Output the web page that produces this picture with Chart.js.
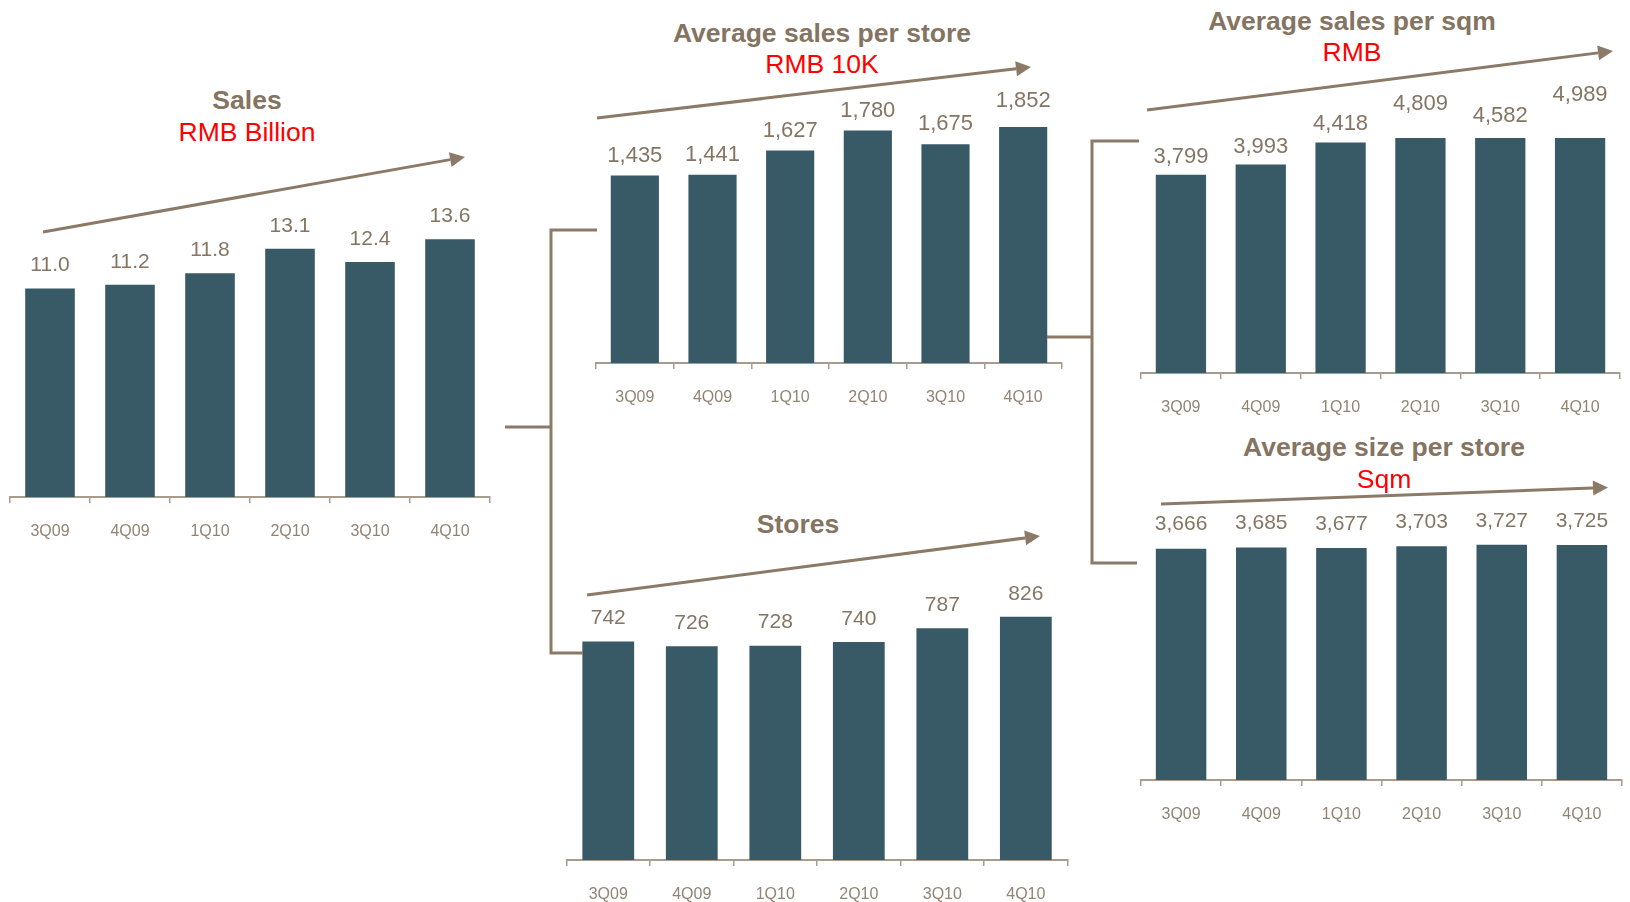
<!DOCTYPE html>
<html><head><meta charset="utf-8">
<script src="https://cdn.jsdelivr.net/npm/chart.js@4.4.1/dist/chart.umd.min.js"></script>
<style>
html,body{margin:0;padding:0;background:#fff;width:1630px;height:902px;overflow:hidden;font-family:"Liberation Sans",Arial,sans-serif;}
canvas{position:absolute;}
.t{position:absolute;transform:translate(-50%,-50%);white-space:nowrap;line-height:1;font-size:26.5px;}
.main{font-weight:bold;color:#847462;}
.unit{color:#ff0000;}
svg{position:absolute;left:0;top:0;z-index:5;}
</style></head><body>
<div id="wrap"></div>
<script>
// ---- data ----
const quarters = ['3Q09','4Q09','1Q10','2Q10','3Q10','4Q10'];
const sales = [11.0, 11.2, 11.8, 13.1, 12.4, 13.6];
const avgSalesPerStore = [1435, 1441, 1627, 1780, 1675, 1852];
const avgSalesPerSqm = [3799, 3993, 4418, 4809, 4582, 4989];
const avgSizePerStore = [3666, 3685, 3677, 3703, 3727, 3725];
const stores = [742, 726, 728, 740, 787, 826];

const titles = {
  sales: ['Sales', 'RMB Billion'],
  perStore: ['Average sales per store', 'RMB 10K'],
  perSqm: ['Average sales per sqm', 'RMB'],
  size: ['Average size per store', 'Sqm'],
  stores: ['Stores', '']
};

// ---- style ----
const BAR = '#375A66';
const AXIS = '#A99B8D';
const TICK_TXT = '#928474';
const VAL_TXT = '#857565';
const LINE = '#8B7A68';
const FONT = '"Liberation Sans", Arial, sans-serif';

const valueLabels = {
  id: 'valueLabels',
  afterDatasetsDraw(chart, args, opts) {
    const ctx = chart.ctx;
    const meta = chart.getDatasetMeta(0);
    const ys = chart.scales.y;
    const data = chart.data.datasets[0].data;
    ctx.save();
    ctx.font = opts.size + 'px ' + FONT;
    ctx.fillStyle = VAL_TXT;
    ctx.textAlign = 'center';
    ctx.textBaseline = 'middle';
    meta.data.forEach((bar, i) => {
      const v = data[i];
      const txt = opts.decimals ? v.toFixed(opts.decimals) : v.toLocaleString('en-US');
      ctx.fillText(txt, bar.x, ys.getPixelForValue(v) - opts.offset);
    });
    ctx.restore();
  }
};

function makeChart(p) {
  const c = document.createElement('canvas');
  c.width = p.w; c.height = p.h;
  c.style.left = p.left + 'px'; c.style.top = p.top + 'px';
  c.style.width = p.w + 'px'; c.style.height = p.h + 'px';
  document.getElementById('wrap').appendChild(c);
  new Chart(c, {
    type: 'bar',
    data: { labels: quarters, datasets: [{ data: p.data, backgroundColor: BAR, borderWidth: 0, clip: 0,
      categoryPercentage: 1, barPercentage: p.bp || 0.62 }] },
    options: {
      responsive: false, animation: false, devicePixelRatio: 1,
      layout: { padding: { left: p.pl, right: p.pr, top: p.pt, bottom: 0 } },
      plugins: { legend: { display: false }, tooltip: { enabled: false },
        valueLabels: { offset: p.off, size: p.fs, decimals: p.dec || 0 } },
      scales: {
        x: {
          grid: { display: true, drawOnChartArea: false, drawTicks: true, tickLength: 6, color: AXIS, lineWidth: 1.5, offset: true },
          border: { display: true, color: AXIS, width: 2 },
          ticks: { color: TICK_TXT, font: { size: 16, family: FONT }, padding: 19, maxRotation: 0, autoSkip: false },
          afterFit(s) { s.height = 45; }
        },
        y: { display: false, min: 0, max: p.max }
      }
    },
    plugins: [valueLabels]
  });
}

makeChart({ data: sales, left: 0, top: 150, w: 500, h: 392, pl: 10, pr: 10, pt: 50, max: 15.67, off: 23, fs: 21, dec: 1 });
makeChart({ data: avgSalesPerStore, left: 585, top: 80, w: 490, h: 328, pl: 11, pr: 13, pt: 47, max: 1807, off: 20, fs: 22 });
makeChart({ data: avgSalesPerSqm, left: 1130, top: 70, w: 500, h: 348, pl: 11, pr: 10, pt: 68, max: 4502, off: 18, fs: 22, bp: 0.63 });
makeChart({ data: avgSizePerStore, left: 1130, top: 490, w: 500, h: 335, pl: 11, pr: 8, pt: 20, max: 4279, off: 24, fs: 21, bp: 0.63 });
makeChart({ data: stores, left: 555, top: 560, w: 525, h: 345, pl: 11.5, pr: 12.4, pt: 20, max: 951, off: 23, fs: 21 });

// ---- titles (text) ----
function addText(txt, cls, x, y) {
  if (!txt) return;
  const d = document.createElement('div');
  d.className = 't ' + cls; d.textContent = txt;
  d.style.left = x + 'px'; d.style.top = y + 'px';
  document.body.appendChild(d);
}
addText(titles.sales[0], 'main', 247, 100); addText(titles.sales[1], 'unit', 247, 132);
addText(titles.perStore[0], 'main', 822, 33); addText(titles.perStore[1], 'unit', 822, 64);
addText(titles.perSqm[0], 'main', 1352, 21); addText(titles.perSqm[1], 'unit', 1352, 52);
addText(titles.size[0], 'main', 1384, 447); addText(titles.size[1], 'unit', 1384, 479);
addText(titles.stores[0], 'main', 798, 524);

// ---- decorative arrows and connectors ----
const NS = 'http://www.w3.org/2000/svg';
const svg = document.createElementNS(NS, 'svg');
svg.setAttribute('width', 1630); svg.setAttribute('height', 902);
document.body.appendChild(svg);
function poly(pts, w) {
  const e = document.createElementNS(NS, 'polyline');
  e.setAttribute('points', pts.map(p => p.join(',')).join(' '));
  e.setAttribute('fill', 'none'); e.setAttribute('stroke', LINE); e.setAttribute('stroke-width', w);
  svg.appendChild(e);
}
function arrow(x1, y1, x2, y2) {
  const a = Math.atan2(y2 - y1, x2 - x1), L = 15, W = 7.5;
  const bx = x2 - L * Math.cos(a), by = y2 - L * Math.sin(a);
  poly([[x1, y1], [bx, by]], 3);
  const e = document.createElementNS(NS, 'polygon');
  const px = -Math.sin(a) * W, py = Math.cos(a) * W;
  e.setAttribute('points', `${x2},${y2} ${bx + px},${by + py} ${bx - px},${by - py}`);
  e.setAttribute('fill', LINE);
  svg.appendChild(e);
}
arrow(43, 232, 465, 157);
arrow(597, 118, 1031, 67);
arrow(1147, 110, 1613, 51);
arrow(1161, 504, 1608, 487.5);
arrow(587, 595, 1040, 536);

poly([[505, 427], [551, 427]], 3);
poly([[597, 230], [551, 230], [551, 653], [583, 653]], 3);
poly([[1047, 337], [1092, 337]], 3);
poly([[1139, 141], [1092, 141], [1092, 563], [1137, 563]], 3);
</script>
</body></html>
